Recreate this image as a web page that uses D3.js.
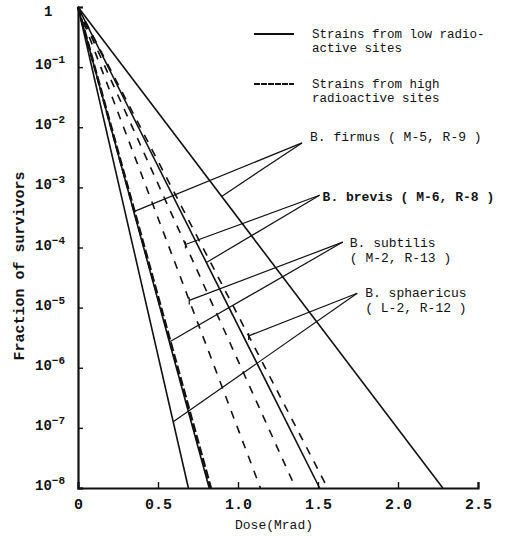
<!DOCTYPE html>
<html><head><meta charset="utf-8">
<script src="https://cdn.jsdelivr.net/npm/d3@7/dist/d3.min.js"></script>
<style>
body{margin:0;background:#fff;}
text{font-family:"Liberation Mono","DejaVu Sans Mono",monospace;fill:#111;}
</style></head>
<body><svg id="c" width="507" height="544"></svg>
<script>
// ---- data ----
const doseTicks = [0, 0.5, 1.0, 1.5, 2.0, 2.5];
const doseTickLabels = ["0", "0.5", "1.0", "1.5", "2.0", "2.5"];
const survivalExps = [0, -1, -2, -3, -4, -5, -6, -7, -8];
const species = ["B. firmus", "B. brevis", "B. subtilis", "B. sphaericus"];
const strainLow = ["M-5", "M-6", "M-2", "L-2"];
const strainHigh = ["R-9", "R-8", "R-13", "R-12"];
// dose (Mrad) at which survival reaches 1e-8 (straight lines from 1 at dose 0)
const doseLow = [2.28, 1.51, 0.82, 0.69];
const doseHigh = [0.83, 1.36, 1.14, 1.56];
// survival exponent where each species' pointer meets its line
const pointerExpLow = [-3.15, -4.25, -5.57, -6.9];
const pointerExpHigh = [-3.4, -3.95, -4.88, -5.47];
// label anchor (apex of pointers) in data units
const labelDose = [1.40, 1.51, 1.655, 1.745];
const labelExp = [-2.26, -3.13, -3.91, -4.76];
const legendLabels = [["Strains from low radio-", "active sites"], ["Strains from high", "radioactive sites"]];

// ---- layout ----
const svg = d3.select("#c");
const x = d3.scaleLinear().domain([0, 2.5]).range([78, 478]);
const y = d3.scaleLog().domain([1e-8, 1]).range([488, 7]);
const ink = "#111";

// curves
const strains = [];
species.forEach((s, i) => {
  strains.push({d: doseLow[i], type: "low"});
  strains.push({d: doseHigh[i], type: "high", thick: i === 0});
});
strains.forEach(st => {
  const p = svg.append("line")
    .attr("x1", x(0)).attr("y1", y(1))
    .attr("x2", x(st.d)).attr("y2", y(1e-8))
    .attr("stroke", ink)
    .attr("stroke-width", st.thick ? 2.6 : 1.6);
  if (st.type === "high") p.attr("stroke-dasharray", st.thick ? "9,3" : "8,8");
});

// axes
const xAxis = d3.axisBottom(x).tickValues(doseTicks).tickSize(-6).tickFormat((d, i) => doseTickLabels[i]).tickPadding(10);
const gx = svg.append("g").attr("transform", `translate(0,${y(1e-8)})`).call(xAxis);
gx.select(".domain").attr("stroke", ink).attr("stroke-width", 2.2);
gx.selectAll(".tick line").attr("stroke", ink).attr("stroke-width", 1.4);
gx.selectAll(".tick text").attr("font-size", 15).attr("font-weight", "bold").attr("fill", ink)
  .attr("font-family", "Liberation Mono, monospace");

const yAxis = d3.axisLeft(y).tickValues(survivalExps.map(e => Math.pow(10, e))).tickSize(-5).tickFormat("");
const gy = svg.append("g").attr("transform", `translate(${x(0)},0)`).call(yAxis);
gy.select(".domain").attr("stroke", ink).attr("stroke-width", 2.2);
gy.selectAll(".tick line").attr("stroke", ink).attr("stroke-width", 1.4);

// y tick labels
survivalExps.forEach(e => {
  const yy = y(Math.pow(10, e));
  if (e === 0) {
    svg.append("text").attr("x", 44).attr("y", yy + 9).attr("font-size", 14).attr("font-weight", "bold").text("1");
  } else {
    const t = svg.append("text").attr("x", 35).attr("y", yy + 2).attr("font-size", 14).attr("font-weight", "bold");
    t.append("tspan").text("10");
    t.append("tspan").attr("dy", -6).attr("font-size", 11).text("\u2212" + Math.abs(e));
  }
});

// axis titles
svg.append("text").attr("x", 274).attr("y", 529).attr("text-anchor", "middle").attr("font-size", 13).text("Dose(Mrad)");
svg.append("text").attr("transform", "translate(24,266) rotate(-90)").attr("text-anchor", "middle")
  .attr("font-size", 15).attr("font-weight", "bold").text("Fraction of survivors");

// legend
const legY = [34, 84];
legendLabels.forEach((lines, i) => {
  const l = svg.append("line").attr("x1", 254).attr("x2", 294).attr("y1", legY[i]).attr("y2", legY[i])
    .attr("stroke", ink).attr("stroke-width", 1.8);
  if (i === 1) l.attr("stroke-dasharray", "6,1");
  lines.forEach((tx, j) => {
    svg.append("text").attr("x", 312).attr("y", legY[i] + 4 + j * 14).attr("font-size", 12.5).text(tx);
  });
});

// species pointers and labels
const labelText = [["B. firmus ( M-5, R-9 )"], ["B. brevis ( M-6, R-8 )"], ["B. subtilis", "( M-2, R-13 )"], ["B. sphaericus", "( L-2, R-12 )"]];
const labelOff = [[8, -2], [3, 6], [7, 5], [8, 4]];
species.forEach((s, i) => {
  const ax = x(labelDose[i]), ay = y(Math.pow(10, labelExp[i]));
  const targets = [
    {d: doseLow[i], e: pointerExpLow[i], tick: false},
    {d: doseHigh[i], e: pointerExpHigh[i], tick: true}
  ];
  targets.forEach(t => {
    const tx = x(t.d * t.e / -8), ty = y(Math.pow(10, t.e));
    svg.append("line").attr("x1", ax).attr("y1", ay).attr("x2", tx).attr("y2", ty)
      .attr("stroke", ink).attr("stroke-width", 1.2);
    if (t.tick) svg.append("line").attr("x1", tx).attr("x2", tx).attr("y1", ty - 3).attr("y2", ty + 4)
      .attr("stroke", ink).attr("stroke-width", 1.2);
  });
  labelText[i].forEach((tx, j) => {
    svg.append("text").attr("x", ax + labelOff[i][0]).attr("y", ay + labelOff[i][1] + j * 15)
      .attr("font-size", 13).attr("font-weight", i === 1 ? "bold" : "normal").text(tx);
  });
});
</script></body></html>
